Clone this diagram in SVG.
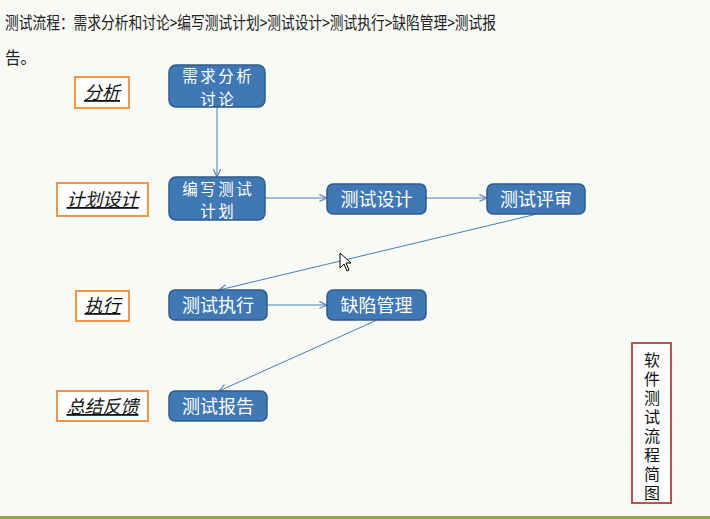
<svg xmlns="http://www.w3.org/2000/svg" width="710" height="519" viewBox="0 0 710 519">
<style>
.bg{fill:#f8faf5}
.node rect{fill:#3f78b5;stroke:#2f5b8c;stroke-width:1.5}
.node text{fill:#ffffff;font-family:"Noto Sans CJK SC",sans-serif;font-size:18px;text-anchor:middle}
.node text.two{font-size:15.5px;letter-spacing:2.5px}
.lab rect{fill:#ffffff;stroke:#f79646;stroke-width:2}
.lab text{fill:#111;font-family:"Noto Sans CJK SC",sans-serif;font-size:18px;font-style:italic;text-decoration:underline;text-anchor:middle}
.title{fill:#222;font-family:"Noto Sans CJK SC",sans-serif;font-size:17px}
.conn line{stroke:#4a7ebb;stroke-width:1;fill:none;marker-end:url(#arr)}
.vt{fill:#111;font-family:"Noto Sans CJK SC",sans-serif;font-size:16px;writing-mode:vertical-rl;letter-spacing:3px}
</style>
<defs>
<marker id="arr" viewBox="0 0 10 10" refX="9.5" refY="5" markerWidth="9" markerHeight="9" markerUnits="userSpaceOnUse" orient="auto">
<path d="M1,1 L9.5,5 L1,9" fill="none" stroke="#4a7ebb" stroke-width="1.2"/>
</marker>
</defs>
<rect class="bg" x="0" y="0" width="710" height="519"/>
<rect x="0" y="516" width="710" height="3" fill="#8fa94f"/>
<text class="title" x="5" y="29" textLength="491" lengthAdjust="spacingAndGlyphs">测试流程：需求分析和讨论&gt;编写测试计划&gt;测试设计&gt;测试执行&gt;缺陷管理&gt;测试报</text>
<text class="title" x="5" y="64" textLength="31" lengthAdjust="spacingAndGlyphs">告。</text>

<g class="conn">
<line x1="217" y1="107" x2="217" y2="177"/>
<line x1="265" y1="198" x2="327" y2="198"/>
<line x1="426" y1="198" x2="487" y2="198"/>
<line x1="537" y1="214" x2="219" y2="290"/>
<line x1="267" y1="305" x2="327" y2="305"/>
<line x1="377" y1="320" x2="219" y2="391"/>
</g>

<g id="n1" class="node"><rect x="169" y="65" width="96" height="42" rx="7"/><text class="two" x="218.2" y="82">需求分析</text><text class="two" x="218.2" y="104.5">讨论</text></g>
<g id="n2" class="node"><rect x="169" y="177" width="96" height="43" rx="7"/><text class="two" x="218.2" y="194.5">编写测试</text><text class="two" x="218.2" y="217">计划</text></g>
<g id="n3" class="node"><rect x="327" y="184" width="99" height="30" rx="6"/><text x="376.5" y="205.5">测试设计</text></g>
<g id="n4" class="node"><rect x="487" y="184" width="98" height="30" rx="6"/><text x="536" y="205.5">测试评审</text></g>
<g id="n5" class="node"><rect x="169" y="290" width="98" height="30" rx="6"/><text x="218" y="311.5">测试执行</text></g>
<g id="n6" class="node"><rect x="327" y="290" width="99" height="30" rx="6"/><text x="376.5" y="311.5">缺陷管理</text></g>
<g id="n7" class="node"><rect x="169" y="391" width="98" height="30" rx="6"/><text x="218" y="412.5">测试报告</text></g>

<g id="l1" class="lab"><rect x="75" y="77" width="54" height="31"/><text x="102" y="99">分析</text></g>
<g id="l2" class="lab"><rect x="57" y="183" width="91" height="33"/><text x="102.5" y="206">计划设计</text></g>
<g id="l3" class="lab"><rect x="76" y="291" width="53" height="30"/><text x="102.5" y="312">执行</text></g>
<g id="l4" class="lab"><rect x="57" y="391" width="91" height="30"/><text x="102.5" y="413">总结反馈</text></g>

<g id="vtitle">
<rect x="632" y="343" width="39" height="160" fill="#ffffff" stroke="#c0504d" stroke-width="2"/>
<text class="vt" x="652" y="352">软件测试流程简图</text>
</g>

<path d="M340,253 L340,268 L344,264 L347,271 L349,270 L346,263 L351,263 Z" fill="#ffffff" stroke="#000" stroke-width="1"/>
</svg>
